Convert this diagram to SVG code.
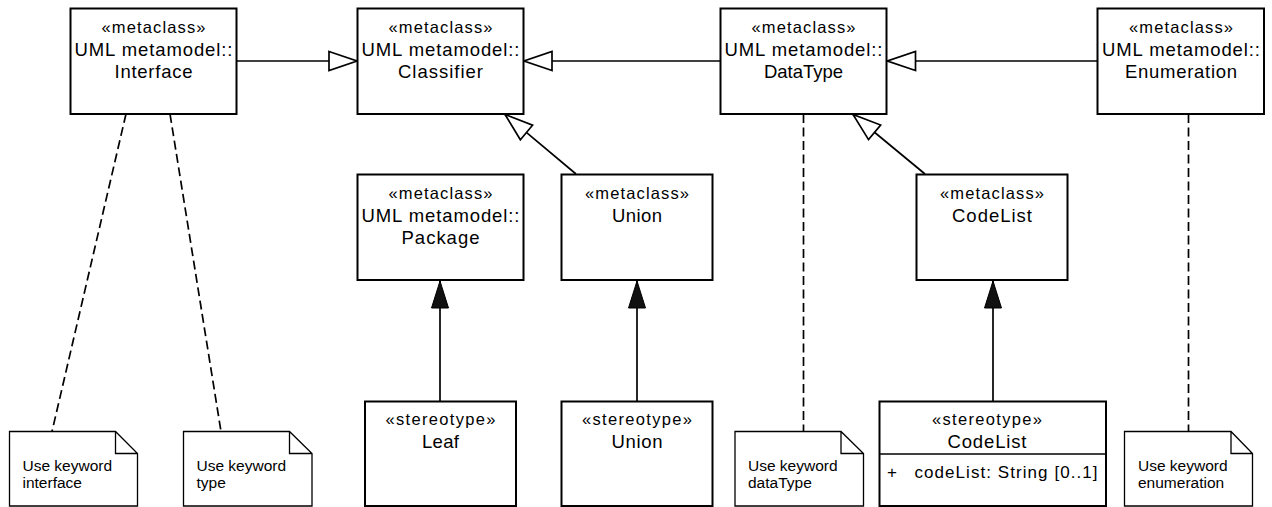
<svg xmlns="http://www.w3.org/2000/svg" width="1272" height="507" viewBox="0 0 1272 507">
  <style>
    .box { fill: #ffffff; stroke: #000000; stroke-width: 2; }
    .note { fill: #ffffff; stroke: #000000; stroke-width: 1.3; }
    .st { font-family: "Liberation Sans", Arial, sans-serif; font-size: 16.5px; fill: #000; text-anchor: middle; }
    .nm { font-family: "Liberation Sans", Arial, sans-serif; font-size: 18.5px; fill: #000; text-anchor: middle; }
    .attr { font-family: "Liberation Sans", Arial, sans-serif; font-size: 17px; fill: #000; }
    .nt { font-family: "Liberation Sans", Arial, sans-serif; font-size: 15.5px; fill: #000; }
    .gen { fill: none; stroke: #000; stroke-width: 1.7; marker-end: url(#hollow); }
    .ext { fill: none; stroke: #000; stroke-width: 1.7; marker-end: url(#filled); }
    .anc { fill: none; stroke: #000; stroke-width: 1.7; stroke-dasharray: 9 4.5; }
  </style>
  <defs>
    <!-- generalization: open triangle -->
    <marker id="hollow" viewBox="-2 -2 32 23" markerWidth="32" markerHeight="23" refX="28" refY="9.5" orient="auto" markerUnits="userSpaceOnUse">
      <path d="M0,0 L28,9.5 L0,19 Z" fill="#ffffff" stroke="#000000" stroke-width="1.7"/>
    </marker>
    <!-- extension: filled triangle -->
    <marker id="filled" viewBox="-1 -1 29 19" markerWidth="29" markerHeight="19" refX="27" refY="8.5" orient="auto" markerUnits="userSpaceOnUse">
      <path d="M0,0 L27,8.5 L0,17 Z" fill="#111111" stroke="#000000" stroke-width="1"/>
    </marker>
  </defs>

  <rect width="1272" height="507" fill="#ffffff"/>

  <!-- connectors -->
  <g id="connectors">
    <path class="gen" d="M237,61 H357"/>
    <path class="gen" d="M720.5,61 H524"/>
    <path class="gen" d="M1097,61 H887.5"/>
    <path class="gen" d="M576,174 L505,114.5"/>
    <path class="gen" d="M925,174 L853,114.5"/>
    <path class="ext" d="M440,401.5 V281"/>
    <path class="ext" d="M637,401.5 V281"/>
    <path class="ext" d="M993,401.5 V281"/>
    <path class="anc" d="M126,114 L52,431.5"/>
    <path class="anc" d="M170,114 L221,431.5"/>
    <path class="anc" d="M803.5,114 V431.5"/>
    <path class="anc" d="M1188.5,114 V431.5"/>
  </g>

  <!-- metaclasses, top row -->
  <g id="interface">
    <rect class="box" x="70.5" y="8.5" width="166" height="105.5"/>
    <text class="st" x="153.5" y="32.5" textLength="104" lengthAdjust="spacing">«metaclass»</text>
    <text class="nm" x="153.5" y="56" textLength="158" lengthAdjust="spacing">UML metamodel::</text>
    <text class="nm" x="153.5" y="77.5" textLength="78" lengthAdjust="spacing">Interface</text>
  </g>
  <g id="classifier">
    <rect class="box" x="357.5" y="8.5" width="166" height="105.5"/>
    <text class="st" x="440.5" y="32.5" textLength="104" lengthAdjust="spacing">«metaclass»</text>
    <text class="nm" x="440.5" y="56" textLength="158" lengthAdjust="spacing">UML metamodel::</text>
    <text class="nm" x="440.5" y="77.5" textLength="85" lengthAdjust="spacing">Classifier</text>
  </g>
  <g id="datatype">
    <rect class="box" x="720.5" y="8.5" width="166" height="105.5"/>
    <text class="st" x="803.5" y="32.5" textLength="104" lengthAdjust="spacing">«metaclass»</text>
    <text class="nm" x="803.5" y="56" textLength="158" lengthAdjust="spacing">UML metamodel::</text>
    <text class="nm" x="803.5" y="77.5">DataType</text>
  </g>
  <g id="enumeration">
    <rect class="box" x="1097.5" y="8.5" width="166.5" height="105.5"/>
    <text class="st" x="1181" y="32.5" textLength="104" lengthAdjust="spacing">«metaclass»</text>
    <text class="nm" x="1181" y="56" textLength="158" lengthAdjust="spacing">UML metamodel::</text>
    <text class="nm" x="1181" y="77.5" textLength="112" lengthAdjust="spacing">Enumeration</text>
  </g>

  <!-- metaclasses, middle row -->
  <g id="package">
    <rect class="box" x="357.5" y="174.5" width="166" height="105.5"/>
    <text class="st" x="440.5" y="199" textLength="104" lengthAdjust="spacing">«metaclass»</text>
    <text class="nm" x="440.5" y="222" textLength="158" lengthAdjust="spacing">UML metamodel::</text>
    <text class="nm" x="440.5" y="243.5" textLength="78" lengthAdjust="spacing">Package</text>
  </g>
  <g id="union-metaclass">
    <rect class="box" x="561.5" y="174.5" width="151" height="105.5"/>
    <text class="st" x="637" y="199" textLength="104" lengthAdjust="spacing">«metaclass»</text>
    <text class="nm" x="637" y="221.5" textLength="50" lengthAdjust="spacing">Union</text>
  </g>
  <g id="codelist-metaclass">
    <rect class="box" x="916.5" y="174.5" width="151" height="105.5"/>
    <text class="st" x="992" y="199" textLength="104" lengthAdjust="spacing">«metaclass»</text>
    <text class="nm" x="992" y="221.5" textLength="80" lengthAdjust="spacing">CodeList</text>
  </g>

  <!-- stereotypes -->
  <g id="leaf-stereotype">
    <rect class="box" x="365" y="401.5" width="151" height="104.5"/>
    <text class="st" x="440.5" y="424.5" textLength="110" lengthAdjust="spacing">«stereotype»</text>
    <text class="nm" x="440.5" y="448" textLength="37" lengthAdjust="spacing">Leaf</text>
  </g>
  <g id="union-stereotype">
    <rect class="box" x="561.5" y="401.5" width="151" height="104.5"/>
    <text class="st" x="637" y="424.5" textLength="110" lengthAdjust="spacing">«stereotype»</text>
    <text class="nm" x="637" y="448" textLength="51" lengthAdjust="spacing">Union</text>
  </g>
  <g id="codelist-stereotype">
    <rect class="box" x="879.5" y="401.5" width="226.5" height="104.5"/>
    <line x1="879.5" y1="454" x2="1106" y2="454" stroke="#000" stroke-width="1.7"/>
    <text class="st" x="987" y="424.5" textLength="110" lengthAdjust="spacing">«stereotype»</text>
    <text class="nm" x="987" y="448" textLength="79" lengthAdjust="spacing">CodeList</text>
    <text class="attr" x="887" y="478">+</text>
    <text class="attr" x="914.5" y="478" textLength="183" lengthAdjust="spacing">codeList: String [0..1]</text>
  </g>

  <!-- notes -->
  <g id="note-interface">
    <path class="note" d="M9.5,506 V431.5 H115.5 L137.5,453.5 V506 Z M115.5,431.5 V453.5 H137.5"/>
    <text class="nt" x="22.5" y="470.7">Use keyword</text>
    <text class="nt" x="22.5" y="488.3">interface</text>
  </g>
  <g id="note-type">
    <path class="note" d="M183.5,506 V431.5 H289.5 L312,453.5 V506 Z M289.5,431.5 V453.5 H312"/>
    <text class="nt" x="196.5" y="470.7">Use keyword</text>
    <text class="nt" x="196.5" y="488.3">type</text>
  </g>
  <g id="note-datatype">
    <path class="note" d="M735,506 V431.5 H841 L863.5,453.5 V506 Z M841,431.5 V453.5 H863.5"/>
    <text class="nt" x="748" y="470.7">Use keyword</text>
    <text class="nt" x="748" y="488.3">dataType</text>
  </g>
  <g id="note-enumeration">
    <path class="note" d="M1124.5,506 V431.5 H1231 L1252.5,453.5 V506 Z M1231,431.5 V453.5 H1252.5"/>
    <text class="nt" x="1138" y="470.7">Use keyword</text>
    <text class="nt" x="1138" y="488.3">enumeration</text>
  </g>
</svg>
